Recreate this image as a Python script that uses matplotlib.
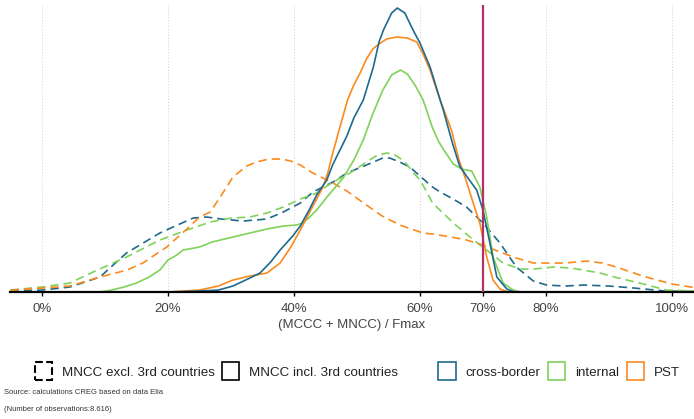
import matplotlib.pyplot as plt
from matplotlib.patches import Patch
from matplotlib.ticker import FuncFormatter

# x positions in % of Fmax, y values are density (arbitrary units)
cb_incl_x = [-5, 20, 25, 28, 30.3, 33, 34.6, 36.3, 37.8, 39.8, 41, 42.4, 43.6, 45.2, 46.2, 47.3, 48.4, 49.5,
             51, 52.6, 53.5, 54.2, 55.5, 56.4, 57.6, 58.9, 60, 61.6, 63.7, 65.2, 66.3, 67.5, 69, 70, 71.1,
             72.2, 73.8, 75, 104]
cb_incl_y = [0, 0, 0.01, 0.02, 0.06, 0.14, 0.19, 0.30, 0.42, 0.56, 0.66, 0.82, 0.97, 1.12, 1.28, 1.42, 1.56, 1.74,
             1.92, 2.25, 2.50, 2.62, 2.79, 2.84, 2.79, 2.62, 2.49, 2.25, 1.82, 1.48, 1.26, 1.15, 1.02, 0.82, 0.49,
             0.15, 0.03, 0, 0]

pst_incl_x = [-5, 20, 25, 28, 30.3, 33, 35.7, 37.8, 39.5, 41, 42.5, 43.6, 44.6, 45.4, 46.2, 47.3, 48.5, 49.5,
              50.5, 51.5, 52.5, 53.5, 54.7, 56.3, 58, 59.5, 60.5, 61.6, 63.2, 65, 66.2, 67.4, 68.5, 69.5, 70.6,
              71.6, 72.7, 74, 104]
pst_incl_y = [0, 0, 0.02, 0.06, 0.12, 0.16, 0.19, 0.29, 0.45, 0.62, 0.80, 0.93, 1.05, 1.20, 1.40, 1.65, 1.92, 2.07,
              2.19, 2.33, 2.43, 2.48, 2.53, 2.55, 2.54, 2.50, 2.38, 2.22, 1.92, 1.62, 1.32, 1.10, 0.88, 0.69, 0.35,
              0.12, 0.03, 0, 0]

int_incl_x = [-5, 9, 10.8, 13, 15, 17, 18.7, 20, 21.4, 22.4, 25, 27, 30.3, 33, 35.7, 38.3, 40.4, 41.4,
              42.5, 43.6, 45.5, 47.8, 49.5, 51, 52.5, 54.1, 55.5, 56.9, 58, 59.3, 60.5, 62, 63, 64, 65.3,
              66.6, 68.2, 69.5, 70.6, 71.6, 73.2, 74.8, 76, 104]
int_incl_y = [0, 0, 0.016, 0.05, 0.09, 0.15, 0.22, 0.32, 0.37, 0.42, 0.45, 0.50, 0.55, 0.59, 0.63, 0.66, 0.67, 0.69,
              0.75, 0.82, 0.97, 1.14, 1.32, 1.52, 1.78, 2.02, 2.17, 2.22, 2.18, 2.06, 1.92, 1.64, 1.50, 1.40, 1.28,
              1.23, 1.21, 1.05, 0.75, 0.35, 0.09, 0.02, 0, 0]

int_excl_x = [-5, 0, 4.4, 8.1, 13.4, 18.7, 23, 26.7, 30, 33, 35.7, 38.3, 41, 43.6, 46.2, 48.9, 51.5,
              53, 54.7, 55.8, 57, 58, 59, 60, 61, 62, 63.5, 65.3, 68.5, 70.6, 73.2, 75.9, 78, 81.2, 84, 88.6,
              91.5, 94.9, 99.1, 104]
int_excl_y = [0.02, 0.05, 0.09, 0.20, 0.35, 0.52, 0.62, 0.70, 0.74, 0.75, 0.79, 0.85, 0.93, 0.99, 1.10, 1.19, 1.30,
              1.36, 1.39, 1.38, 1.33, 1.27, 1.19, 1.12, 1.01, 0.89, 0.80, 0.69, 0.52, 0.42, 0.29, 0.23, 0.23, 0.25,
              0.24, 0.19, 0.14, 0.09, 0.02, 0.01]

cb_excl_x = [-5, 0, 4.4, 9.2, 13.4, 18.7, 21.5, 24, 26.1, 28.5, 31.9, 35.7, 38.3, 41, 43, 46.2, 48.4,
             51.5, 54.1, 55.2, 56.8, 58.4, 60, 62, 63.2, 65, 67.4, 70, 72.7, 75.3, 78, 80.1, 83, 86, 90, 94, 99, 104]
cb_excl_y = [0.01, 0.02, 0.05, 0.15, 0.39, 0.59, 0.67, 0.74, 0.75, 0.73, 0.71, 0.73, 0.80, 0.89, 1.00, 1.10, 1.19,
             1.27, 1.34, 1.34, 1.30, 1.25, 1.16, 1.05, 1.00, 0.94, 0.85, 0.69, 0.49, 0.25, 0.11, 0.07, 0.06, 0.07,
             0.06, 0.04, 0.01, 0.005]

pst_excl_x = [-5, 0, 4.4, 9.2, 13.5, 16, 19.8, 21.4, 23, 25, 26.7, 28.5, 30.3, 32.5, 34, 36, 38, 39.5, 41, 43,
              46.2, 48.4, 51.5, 54, 56.8, 60.5, 62, 65, 67.4, 70, 72.7, 75.3, 78, 80.1, 83, 86.5, 89, 91.2,
              94.9, 96.5, 100, 104]
pst_excl_y = [0.02, 0.04, 0.06, 0.15, 0.22, 0.29, 0.45, 0.54, 0.63, 0.75, 0.80, 0.97, 1.15, 1.26, 1.30, 1.33, 1.33,
              1.31, 1.27, 1.19, 1.09, 1.01, 0.87, 0.76, 0.67, 0.59, 0.58, 0.55, 0.52, 0.47, 0.40, 0.34, 0.29,
              0.29, 0.29, 0.31, 0.29, 0.25, 0.17, 0.14, 0.08, 0.04]

ticks = [0, 20, 40, 60, 70, 80, 100]
threshold = 70

BLUE = "#1f6a8c"
GREEN = "#7fd25a"
ORANGE = "#fb8a1f"
RED = "#b3306b"

plt.rcParams["font.family"] = ["Liberation Sans", "DejaVu Sans"]

fig = plt.figure(figsize=(6.94, 4.19), dpi=100)
ax = fig.add_axes([0.0144, 0.303, 0.9856, 0.685])

dash = (0, (5, 3))
lw = 1.2
ax.plot(cb_excl_x, cb_excl_y, color=BLUE, lw=lw, linestyle=dash)
ax.plot(int_excl_x, int_excl_y, color=GREEN, lw=lw, linestyle=dash)
ax.plot(pst_excl_x, pst_excl_y, color=ORANGE, lw=lw, linestyle=dash)
ax.plot(int_incl_x, int_incl_y, color=GREEN, lw=lw)
ax.plot(pst_incl_x, pst_incl_y, color=ORANGE, lw=lw)
ax.plot(cb_incl_x, cb_incl_y, color=BLUE, lw=lw)
ax.axvline(threshold, color=RED, lw=1.6, zorder=4)

ax.set_xlim(-5.08, 103.5)
ax.set_ylim(0, 2.87)
ax.set_xticks(ticks)
ax.xaxis.set_major_formatter(FuncFormatter(lambda v, p: f"{v:.0f}%"))
ax.tick_params(axis="x", length=3, width=1, color="black", labelsize=9.5, labelcolor="#444444", pad=5)
ax.set_yticks([])
ax.grid(axis="x", color="#d0d0d0", linestyle=(0, (1, 2)), lw=0.7)
for side in ["left", "right", "top"]:
    ax.spines[side].set_visible(False)
ax.spines["bottom"].set_linewidth(1.6)
ax.set_xlabel("(MCCC + MNCC) / Fmax", fontsize=9.5, color="#444444", labelpad=3)

style_handles = [
    Patch(facecolor="none", edgecolor="black", linestyle="--", linewidth=1.5),
    Patch(facecolor="none", edgecolor="black", linewidth=1.2),
]
style_labels = ["MNCC excl. 3rd countries", "MNCC incl. 3rd countries"]
color_handles = [Patch(facecolor="none", edgecolor=c, linewidth=1.2) for c in [BLUE, GREEN, ORANGE]]
color_labels = ["cross-border", "internal", "PST"]

leg_kw = dict(frameon=False, fontsize=9.6, handlelength=1.3, handleheight=1.7,
              handletextpad=0.75, columnspacing=0.55, borderpad=0, labelcolor="#222222")
fig.legend(style_handles, style_labels, ncol=2, loc="center", bbox_to_anchor=(0.312, 0.114), **leg_kw)
fig.legend(color_handles, color_labels, ncol=3, loc="center", bbox_to_anchor=(0.806, 0.114), **leg_kw)

fig.text(0.006, 0.064, "Source: calculations CREG based on data Elia", fontsize=5.5, color="#333333", va="center")
fig.text(0.006, 0.022, "(Number of observations:8.616)", fontsize=5.5, color="#333333", va="center")

fig.savefig("out.png", dpi=100)
